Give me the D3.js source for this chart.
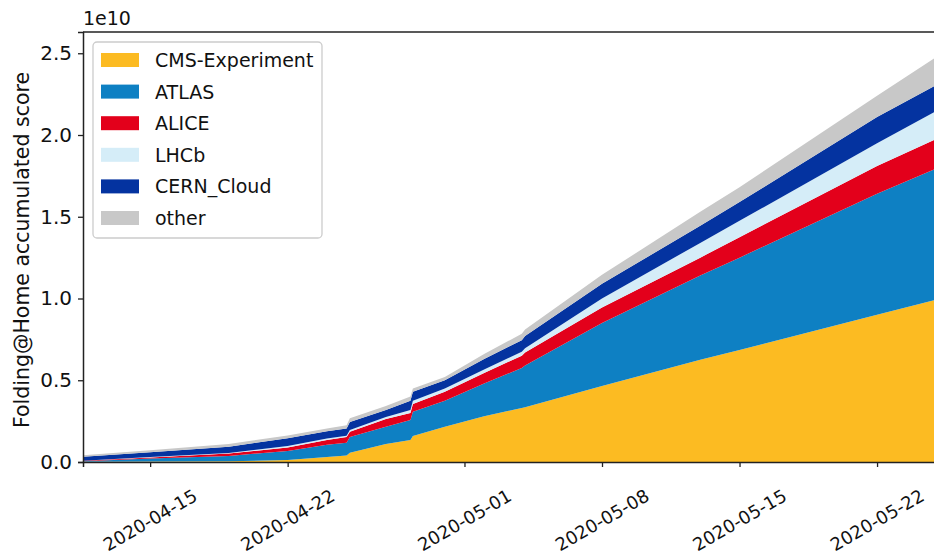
<!DOCTYPE html>
<html>
<head>
<meta charset="utf-8">
<script src="https://cdn.jsdelivr.net/npm/d3@7"></script>
<style>
  body { margin: 0; background: #fff; }
  svg { display: block; font-family: "DejaVu Sans", sans-serif; }
</style>
</head>
<body>
<div id="chart"></div>
<script>
// timestamps of the readings (stack values in units of 1e10)
const dates = [
  "2020-04-11T14", "2020-04-15T00", "2020-04-19T00", "2020-04-22T00", "2020-04-24T00",
  "2020-04-25T00", "2020-04-25T04", "2020-04-27T00", "2020-04-28T06", "2020-04-28T09",
  "2020-04-30T00", "2020-05-02T00", "2020-05-03T22", "2020-05-04T02", "2020-05-08T00",
  "2020-05-13T00", "2020-05-15T00", "2020-05-22T00", "2020-05-24T22"
];
const cms   = [.002, .003, .004, .012, .030, .040, .057, .110, .135, .159, .215, .280, .330, .335, .465, .625, .685, .900, .990];
const atlas = [.003, .019, .033, .056, .075, .078, .096, .106, .122, .149, .160, .200, .245, .255, .385, .515, .565, .740, .800];
const alice = [.002, .006, .015, .020, .030, .035, .032, .047, .043, .047, .055, .065, .075, .080, .095, .110, .125, .170, .180];
const lhcb  = [.001, .002, .003, .010, .008, .007, .011, .012, .018, .020, .020, .020, .025, .025, .055, .090, .100, .140, .170];
const cern  = [.024, .030, .039, .047, .045, .045, .049, .043, .057, .055, .050, .065, .070, .075, .090, .105, .115, .160, .160];
const other = [.010, .012, .016, .017, .017, .020, .023, .025, .025, .020, .020, .030, .040, .040, .055, .085, .090, .130, .170];

const seriesNames = ["CMS-Experiment", "ATLAS", "ALICE", "LHCb", "CERN_Cloud", "other"];
const seriesColors = ["#fcbb22", "#0e80c3", "#e3001b", "#d5edf8", "#0433a0", "#c8c8c8"];
const xTicks = ["2020-04-15", "2020-04-22", "2020-05-01", "2020-05-08", "2020-05-15", "2020-05-22"];
const yTicks = [0, 0.5, 1.0, 1.5, 2.0, 2.5];

const parseT = d3.timeParse("%Y-%m-%dT%H");
const parseD = d3.timeParse("%Y-%m-%d");

const columns = [cms, atlas, alice, lhcb, cern, other];
const rows = dates.map((d, i) => {
  const r = { date: parseT(d) };
  seriesNames.forEach((k, j) => r[k] = columns[j][i]);
  return r;
});

const width = 934, height = 556;
const plotLeft = 83, plotTop = 32, plotBottom = 462, plotRight = 945;

const svg = d3.select("#chart").append("svg")
  .attr("width", width)
  .attr("height", height);

const x = d3.scaleTime()
  .domain([parseT("2020-04-11T14"), parseT("2020-05-25T11")])
  .range([plotLeft, plotRight]);

const y = d3.scaleLinear()
  .domain([0, 2.63])
  .range([plotBottom, plotTop]);

const stacked = d3.stack().keys(seriesNames)(rows);

const area = d3.area()
  .x(d => x(d.data.date))
  .y0(d => y(d[0]))
  .y1(d => y(d[1]));

svg.append("g")
  .selectAll("path")
  .data(stacked)
  .enter().append("path")
  .attr("d", area)
  .attr("fill", (d, i) => seriesColors[i]);

// axes
const xAxis = svg.append("g")
  .attr("transform", `translate(0,${plotBottom})`)
  .call(d3.axisBottom(x).tickValues(xTicks.map(parseD)).tickSize(5).tickFormat(""));
xAxis.select(".domain").attr("stroke", "#222").attr("stroke-width", 1.5);
xAxis.selectAll(".tick line").attr("stroke", "#222").attr("stroke-width", 1.3);

svg.append("g")
  .selectAll("text")
  .data(xTicks)
  .enter().append("text")
  .attr("transform", d => `translate(${x(parseD(d))},520) rotate(-30)`)
  .attr("text-anchor", "middle")
  .attr("dominant-baseline", "central")
  .attr("font-size", 18)
  .attr("fill", "#111")
  .text(d => d);

const yAxis = svg.append("g")
  .attr("transform", `translate(${plotLeft},0)`)
  .call(d3.axisLeft(y).tickValues(yTicks).tickSize(5).tickPadding(6).tickFormat(d3.format(".1f")));
yAxis.select(".domain").attr("stroke", "#222").attr("stroke-width", 1.5);
yAxis.selectAll(".tick line").attr("stroke", "#222").attr("stroke-width", 1.3);
yAxis.selectAll(".tick text")
  .attr("font-size", 20)
  .attr("font-family", "DejaVu Sans, sans-serif")
  .attr("fill", "#111");

// top spine
svg.append("line")
  .attr("x1", plotLeft).attr("x2", plotRight)
  .attr("y1", plotTop).attr("y2", plotTop)
  .attr("stroke", "#222").attr("stroke-width", 1.5);

// offset text
svg.append("text")
  .attr("x", plotLeft)
  .attr("y", 25)
  .attr("font-size", 19)
  .attr("fill", "#111")
  .text("1e10");

// y label
svg.append("text")
  .attr("transform", `translate(29,250) rotate(-90)`)
  .attr("text-anchor", "middle")
  .attr("font-size", 20.5)
  .attr("fill", "#111")
  .text("Folding@Home accumulated score");

// legend
const legend = svg.append("g");
legend.append("rect")
  .attr("x", 93).attr("y", 42)
  .attr("width", 229).attr("height", 196)
  .attr("rx", 4)
  .attr("fill", "#fff").attr("fill-opacity", 0.85)
  .attr("stroke", "#cccccc").attr("stroke-width", 1.3);

const item = legend.selectAll(".item")
  .data(seriesNames)
  .enter().append("g")
  .attr("class", "item")
  .attr("transform", (d, i) => `translate(0,${60 + i * 31.6})`);

item.append("rect")
  .attr("x", 101).attr("y", -7)
  .attr("width", 38).attr("height", 14)
  .attr("fill", (d, i) => seriesColors[i]);

item.append("text")
  .attr("x", 155)
  .attr("y", 0)
  .attr("dominant-baseline", "central")
  .attr("font-size", 19)
  .attr("fill", "#111")
  .text(d => d);
</script>
</body>
</html>
